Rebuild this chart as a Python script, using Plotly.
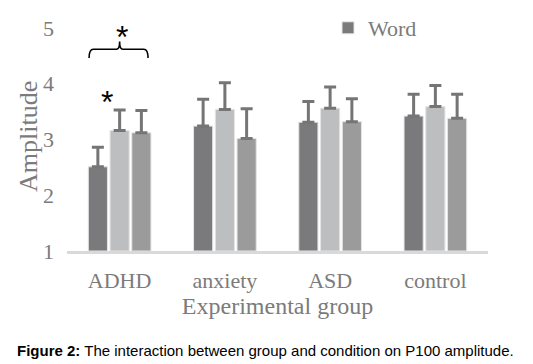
import plotly.graph_objects as go

groups = ["ADHD", "anxiety", "ASD", "control"]
cond_names = ["Word", "Condition 2", "Condition 3"]
cond1_mean = [2.51, 3.24, 3.31, 3.42]
cond1_err = [0.35, 0.48, 0.37, 0.39]
cond2_mean = [3.16, 3.54, 3.56, 3.59]
cond2_err = [0.37, 0.48, 0.38, 0.38]
cond3_mean = [3.12, 3.02, 3.32, 3.38]
cond3_err = [0.40, 0.53, 0.41, 0.43]
y_ticks = [1, 2, 3, 4, 5]

colors = ["#7a797b", "#bdbec0", "#9b9b9c"]
serif = "Liberation Serif, Times New Roman, serif"
txt_gray = "#7b7b7b"

fig = go.Figure()
for i, (name, m, e) in enumerate(zip(cond_names, [cond1_mean, cond2_mean, cond3_mean],
                                      [cond1_err, cond2_err, cond3_err])):
    fig.add_trace(go.Bar(
        x=groups, y=[v - 1 for v in m], base=1, name=name,
        marker=dict(color=colors[i], line=dict(color="#e4e4e4", width=1)),
        error_y=dict(type="data", array=e, arrayminus=[0] * len(e), symmetric=False,
                     color="#757575", thickness=3, width=6),
        showlegend=(i == 0),
    ))

# bracket and significance stars
xl, xr, yb, ym, yt = -0.29, 0.27, 4.46, 4.62, 4.76
fig.add_shape(type="path",
              path=f"M {xl},{yb} Q {xl},{ym} {xl+0.04},{ym} L {-0.03},{ym} Q 0,{ym} 0,{yt} "
                   f"Q 0,{ym} 0.03,{ym} L {xr-0.04},{ym} Q {xr},{ym} {xr},{yb}",
              xref="x", yref="y", line=dict(color="black", width=1.6))
fig.add_annotation(x=0, y=4.84, xref="x", yref="y", text="*", showarrow=False, xshift=2,
                   font=dict(size=32, color="black", family="Liberation Sans, Arial"))
fig.add_annotation(x=0, y=3.68, xref="x", yref="y", text="*", showarrow=False, xshift=-13,
                   font=dict(size=32, color="black", family="Liberation Sans, Arial"))

# y-axis title placed as rotated text beside the tick labels
fig.add_annotation(x=-0.0903, y=0.516, xref="paper", yref="paper", xanchor="center", yanchor="middle",
                   text="Amplitude", textangle=-90, showarrow=False,
                   font=dict(size=26, color=txt_gray, family=serif))

fig.add_annotation(x=-0.1235, y=-0.444, xref="paper", yref="paper", xanchor="left", yanchor="middle",
                   text="<b>Figure 2:</b> The interaction between group and condition on P100 amplitude.",
                   showarrow=False, font=dict(size=15, color="black", family="Liberation Sans, Arial"))

# page body has an 8px margin, so the figure is 8px smaller than the window
fig.update_layout(
    width=525, height=356,
    margin=dict(l=59, r=45, t=20, b=113, autoexpand=False),
    paper_bgcolor="white", plot_bgcolor="white",
    barmode="group", bargap=0.38, bargroupgap=0.12,
    font=dict(family=serif, color=txt_gray),
    showlegend=True,
    legend=dict(x=0.62, y=1.0, xanchor="left", yanchor="middle", orientation="h",
                font=dict(size=22, family=serif, color=txt_gray), bgcolor="rgba(0,0,0,0)"),
    xaxis=dict(showgrid=False, showline=True, linecolor="#d9d9d9", linewidth=3, ticks="",
               tickfont=dict(size=22), ticklabelstandoff=8, automargin=False,
               title=dict(text="Experimental group", font=dict(size=24), standoff=2)),
    yaxis=dict(range=[1, 5], tickvals=y_ticks, showgrid=False, zeroline=False, showline=False,
               ticks="", tickfont=dict(size=22), ticklabelstandoff=12, automargin=False),
)

fig.write_html("out.html")
